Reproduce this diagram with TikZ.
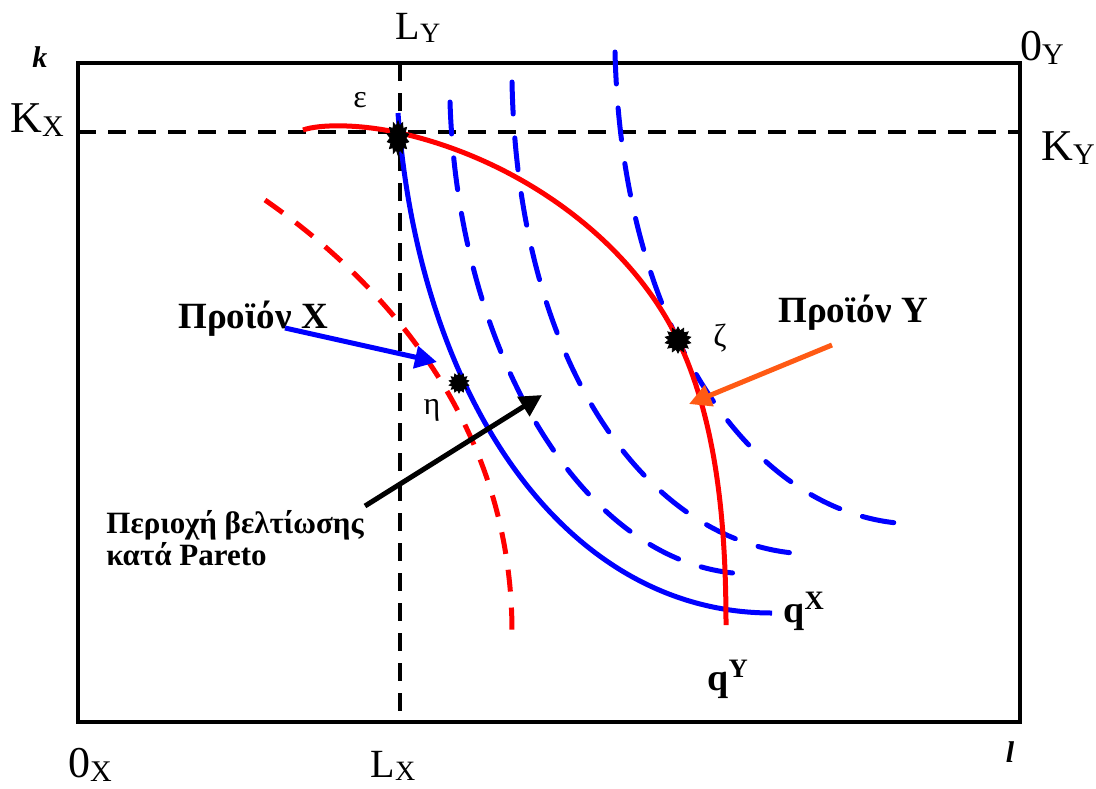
\documentclass[tikz,border=0pt]{standalone}
\usepackage{fontspec}
\setmainfont{Liberation Serif}
\usetikzlibrary{shapes.geometric,arrows.meta}
\definecolor{orangeY}{RGB}{255,90,20}
\newcommand{\lowsub}[2]{\lower0.2ex\hbox{\fontsize{#1}{#1}\selectfont #2}}

\begin{document}
\begin{tikzpicture}[x=0.5pt,y=-0.5pt,
  axis/.style={line width=2pt},
  guide/.style={line width=1.8pt,dash pattern=on 9pt off 6pt},
  qx/.style={blue,line width=2.5pt},
  qxdash/.style={blue,line width=2.5pt,line cap=round,dash pattern=on 16pt off 12pt},
  qy/.style={red,line width=2.5pt},
  qydash/.style={red,line width=2.5pt,dash pattern=on 11pt off 8pt},
  blot/.style={star,star points=14,star point ratio=1.4,fill=black,draw=black,inner sep=0pt},
  biglab/.style={font=\fontsize{22}{22}\selectfont,inner sep=0pt},
  midlab/.style={font=\fontsize{20}{20}\selectfont,inner sep=0pt},
  greek/.style={font=\fontsize{16}{16}\selectfont,inner sep=0pt},
  prod/.style={font=\fontsize{18.5}{18.5}\selectfont\bfseries,inner sep=0pt},
  arr/.style={line width=2.5pt,-{Triangle[length=11pt,width=11pt]}}]
  \useasboundingbox (0,0) rectangle (1096,788);
  \coordinate (ox) at (78,722);
  \coordinate (oy) at (1020,63);
  \coordinate (kx) at (78,132);
  \coordinate (ky) at (1020,132);
  \coordinate (ly) at (400,63);
  \coordinate (lx) at (400,722);
  \draw[axis] (ox) rectangle (oy);
  \draw[guide] (kx) -- (ky);
  \draw[guide] (ly) -- (lx);
  % contract curves
  \draw[qydash] (265,200) .. controls (380,280) and (512,420) .. (512,632);
  \draw[qxdash] (450,102) .. controls (458,360) and (590,574) .. (752,574);
  \draw[qxdash] (512,82) .. controls (518,380) and (660,554) .. (813,554);
  \draw[qxdash] (615,52) .. controls (622,340) and (760,524) .. (917,524);
  \draw[qx] (398,113) .. controls (418,390) and (560,613) .. (772,613);
  \draw[qy] (303,130) .. controls (320,124) and (360,124) .. (400,133)
    .. controls (520,160) and (630,240) .. (678,340)
    .. controls (716,420) and (726,520) .. (726,625);
  % points
  \begin{scope}[shift={(398,138)},yscale=1.55]
    \node[blot,minimum size=11pt,transform shape] (eps) at (0,0) {};
  \end{scope}
  \node[blot,minimum size=10pt] (eta) at (459,383) {};
  \node[blot,minimum size=13pt] (zeta) at (678,340) {};
  \node[greek] (epslab) at (360,100) {ε};
  \node[greek] (etalab) at (432,410) {η};
  \node[greek] (zetalab) at (720,338) {ζ};
  % axis labels
  \node[font=\fontsize{15}{15}\selectfont\bfseries\itshape,inner sep=0pt] (k) at (40,57) {k};
  \node[font=\fontsize{15}{15}\selectfont\bfseries\itshape,inner sep=0pt] (l) at (1010,752) {l};
  \node[midlab] (Ly) at (418,28) {L\lowsub{14}{Y}};
  \node[midlab] (Lx) at (393,766) {L\lowsub{14}{X}};
  \node[biglab] (Kx) at (37,120) {K\lowsub{15}{X}};
  \node[biglab] (Ky) at (1068,148) {K\lowsub{15}{Y}};
  \node[biglab] (Oy) at (1042,48) {0\lowsub{15}{Y}};
  \node[biglab] (Ox) at (90,765) {0\lowsub{15}{X}};
  \node[font=\fontsize{19}{19}\selectfont\bfseries,inner sep=0pt,anchor=base west] (qX) at (783,622) {q\textsuperscript{X}};
  \node[font=\fontsize{19}{19}\selectfont\bfseries,inner sep=0pt,anchor=base west] (qY) at (707,690) {q\textsuperscript{Y}};
  % product labels and arrows
  \node[prod,anchor=base west] (prodX) at (178,328) {Προϊόν X};
  \node[prod,anchor=base west] (prodY) at (778,322) {Προϊόν Y};
  \node[font=\fontsize{15.5}{16}\selectfont\bfseries,inner sep=0pt,anchor=north west,align=left] (pareto) at (106,510) {Περιοχή βελτίωσης\\κατά Pareto};
  \coordinate (xtail) at (285,328);
  \coordinate (xtip) at (437,362);
  \coordinate (ytail) at (832,345);
  \coordinate (ytip) at (689,404);
  \coordinate (ptail) at (365,506);
  \coordinate (ptip) at (542,395);
  \draw[arr,blue] (xtail) -- (xtip);
  \draw[arr,orangeY] (ytail) -- (ytip);
  \draw[arr,black] (ptail) -- (ptip);
\end{tikzpicture}
\end{document}
